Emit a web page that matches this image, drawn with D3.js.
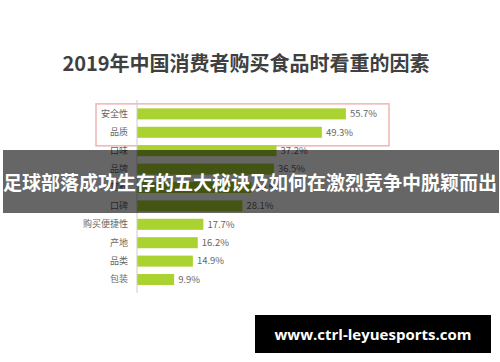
<!DOCTYPE html>
<html>
<head>
<meta charset="utf-8">
<script src="https://cdn.jsdelivr.net/npm/d3@7"></script>
<style>
  body { margin: 0; background: #fff; }
  svg { display: block; font-family: "Noto Sans CJK SC", "Noto Sans", sans-serif; }
</style>
</head>
<body>
<div id="chart"></div>
<script>
const title = "2019年中国消费者购买食品时看重的因素";
const categories = ["安全性", "品质", "口味", "品牌", "营养", "口碑", "购买便捷性", "产地", "品类", "包装"];
const values = [55.7, 49.3, 37.2, 36.5, 30.5, 28.1, 17.7, 16.2, 14.9, 9.9];
const highlighted = ["安全性", "品质"];
const bannerText = "足球部落成功生存的五大秘诀及如何在激烈竞争中脱颖而出";
const siteText = "www.ctrl-leyuesports.com";

const width = 500;
const height = 362;

const data = categories.map((c, i) => ({ label: c, value: values[i] }));

const svg = d3.select("#chart")
    .append("svg")
    .attr("width", width)
    .attr("height", height);

const xScale = d3.scaleLinear()
    .domain([0, 60])
    .range([137, 362]);

const yScale = d3.scaleBand()
    .domain(categories)
    .range([101, 292.4])
    .padding(0.4);

svg.append("text")
    .attr("x", 246)
    .attr("y", 71)
    .attr("text-anchor", "middle")
    .attr("font-size", 20)
    .attr("font-weight", "bold")
    .attr("fill", "#404040")
    .text(title);

// highlight box round the first two rows
const hl = highlighted.map(d => yScale(d));
svg.append("rect")
    .attr("x", 96)
    .attr("y", d3.min(hl) - 4.5)
    .attr("width", 293)
    .attr("height", d3.max(hl) + yScale.bandwidth() + 4.5 - (d3.min(hl) - 4.5) + 3.5)
    .attr("fill", "none")
    .attr("stroke", "#f0b4b4")
    .attr("stroke-width", 1.5);

svg.selectAll("rect.bar")
    .data(data)
    .enter()
    .append("rect")
    .attr("class", "bar")
    .attr("x", xScale(0))
    .attr("y", d => yScale(d.label))
    .attr("width", d => xScale(d.value) - xScale(0))
    .attr("height", yScale.bandwidth())
    .attr("fill", "#aad230");

svg.selectAll("text.val")
    .data(data)
    .enter()
    .append("text")
    .attr("class", "val")
    .attr("x", d => xScale(d.value) + 4)
    .attr("y", d => yScale(d.label) + yScale.bandwidth() / 2)
    .attr("dy", "0.35em")
    .attr("font-size", 9.5)
    .attr("fill", "#666")
    .text(d => d.value.toFixed(1) + "%");

const yAxis = svg.append("g")
    .attr("transform", `translate(${xScale(0)},0)`)
    .call(d3.axisLeft(yScale).tickSize(0).tickPadding(9));
yAxis.select(".domain")
    .attr("stroke", "#ccc")
    .attr("d", "M0,100V293");
yAxis.selectAll("text")
    .attr("font-size", 9)
    .attr("fill", "#666")
    .attr("font-family", "'Noto Sans CJK SC', sans-serif");

// banner overlay
svg.append("rect")
    .attr("x", 3)
    .attr("y", 150)
    .attr("width", 496)
    .attr("height", 63)
    .attr("fill", "rgba(0,0,0,0.6)");

svg.append("text")
    .attr("x", 250)
    .attr("y", 190)
    .attr("text-anchor", "middle")
    .attr("font-size", 19)
    .attr("font-weight", "bold")
    .attr("fill", "#fff")
    .text(bannerText);

svg.append("rect")
    .attr("x", 255)
    .attr("y", 315)
    .attr("width", 236)
    .attr("height", 38)
    .attr("fill", "#000");

svg.append("text")
    .attr("x", 373)
    .attr("y", 340)
    .attr("text-anchor", "middle")
    .attr("font-family", "'Open Sans', sans-serif")
    .attr("font-size", 15)
    .attr("font-weight", "bold")
    .attr("fill", "#fff")
    .text(siteText);
</script>
</body>
</html>
